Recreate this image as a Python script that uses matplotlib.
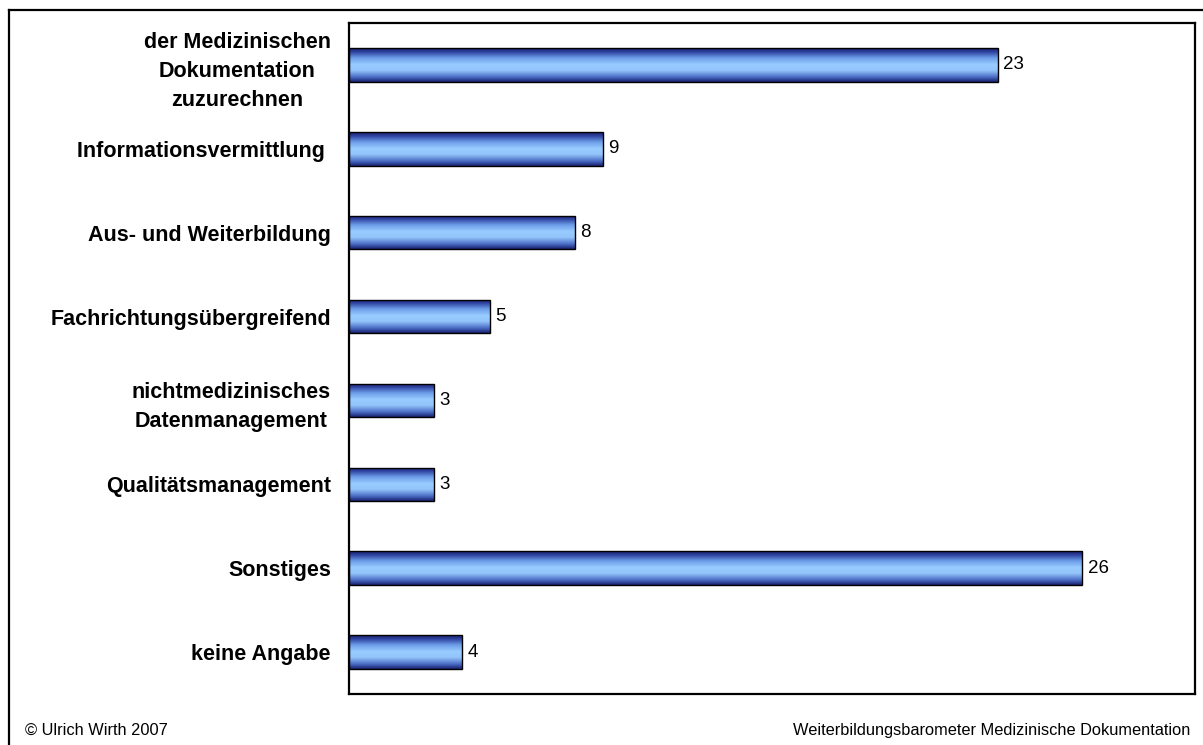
import numpy as np
import matplotlib.pyplot as plt
from matplotlib.colors import LinearSegmentedColormap
from matplotlib.lines import Line2D

plt.rcParams['font.family'] = ['Liberation Sans', 'DejaVu Sans']

categories = ["der Medizinischen\nDokumentation\nzuzurechnen",
              "Informationsvermittlung ",
              "Aus- und Weiterbildung",
              "Fachrichtungsübergreifend",
              "nichtmedizinisches\nDatenmanagement",
              "Qualitätsmanagement",
              "Sonstiges",
              "keine Angabe"]
values = [23, 9, 8, 5, 3, 3, 26, 4]

W, H = 1203, 745
fig = plt.figure(figsize=(W / 100, H / 100), dpi=100)
ax = fig.add_axes([349 / W, 1 - 694 / H, 846 / W, 671 / H])

y = np.arange(len(categories))
bars = ax.barh(y, values, height=0.4, color='none', edgecolor='black',
               linewidth=1.0, zorder=3)

# vertical shading: navy at the rims, light blue in the middle
shade = LinearSegmentedColormap.from_list(
    'shade', [(0.0, '#1a2270'), (0.1, '#2b3f9c'), (0.28, '#6a9ae6'),
              (0.48, '#99ccff'), (0.66, '#93c4fb'), (0.86, '#4a6cc4'),
              (1.0, '#1a2270')])
grad = np.linspace(0, 1, 64).reshape(-1, 1)
for b in bars:
    x0, y0 = b.get_x(), b.get_y()
    im = ax.imshow(grad, cmap=shade, aspect='auto', interpolation='bicubic',
                   extent=[x0, x0 + b.get_width(), y0 + b.get_height(), y0],
                   zorder=2)
    im.set_clip_path(b)

for yi, v in zip(y, values):
    ax.text(v + 0.2, yi, str(v), va='center', ha='left', fontsize=13.5,
            color='black')

ax.set_xlim(0, 30)
ax.set_ylim(len(categories) - 0.5, -0.5)
ax.set_xticks([])
ax.set_yticks(y)
ax.set_yticklabels(categories, fontsize=15.5, fontweight='bold',
                   multialignment='center', linespacing=1.52)
ax.tick_params(axis='y', length=0, pad=13)
for s in ax.spines.values():
    s.set_linewidth(1.6)

# outer frame around the whole chart
fig.add_artist(Line2D([9 / W, 1], [1 - 10 / H, 1 - 10 / H], color='black',
                      lw=1.6, transform=fig.transFigure))
fig.add_artist(Line2D([9 / W, 9 / W], [1 - 10 / H, 0], color='black',
                      lw=1.6, transform=fig.transFigure))

fig.text(25 / W, 1 - 730 / H, "© Ulrich Wirth 2007", fontsize=11.8,
         ha='left', va='center')
fig.text(1190 / W, 1 - 730 / H,
         "Weiterbildungsbarometer Medizinische Dokumentation", fontsize=11.8,
         ha='right', va='center')

fig.savefig('out.png', dpi=100)
